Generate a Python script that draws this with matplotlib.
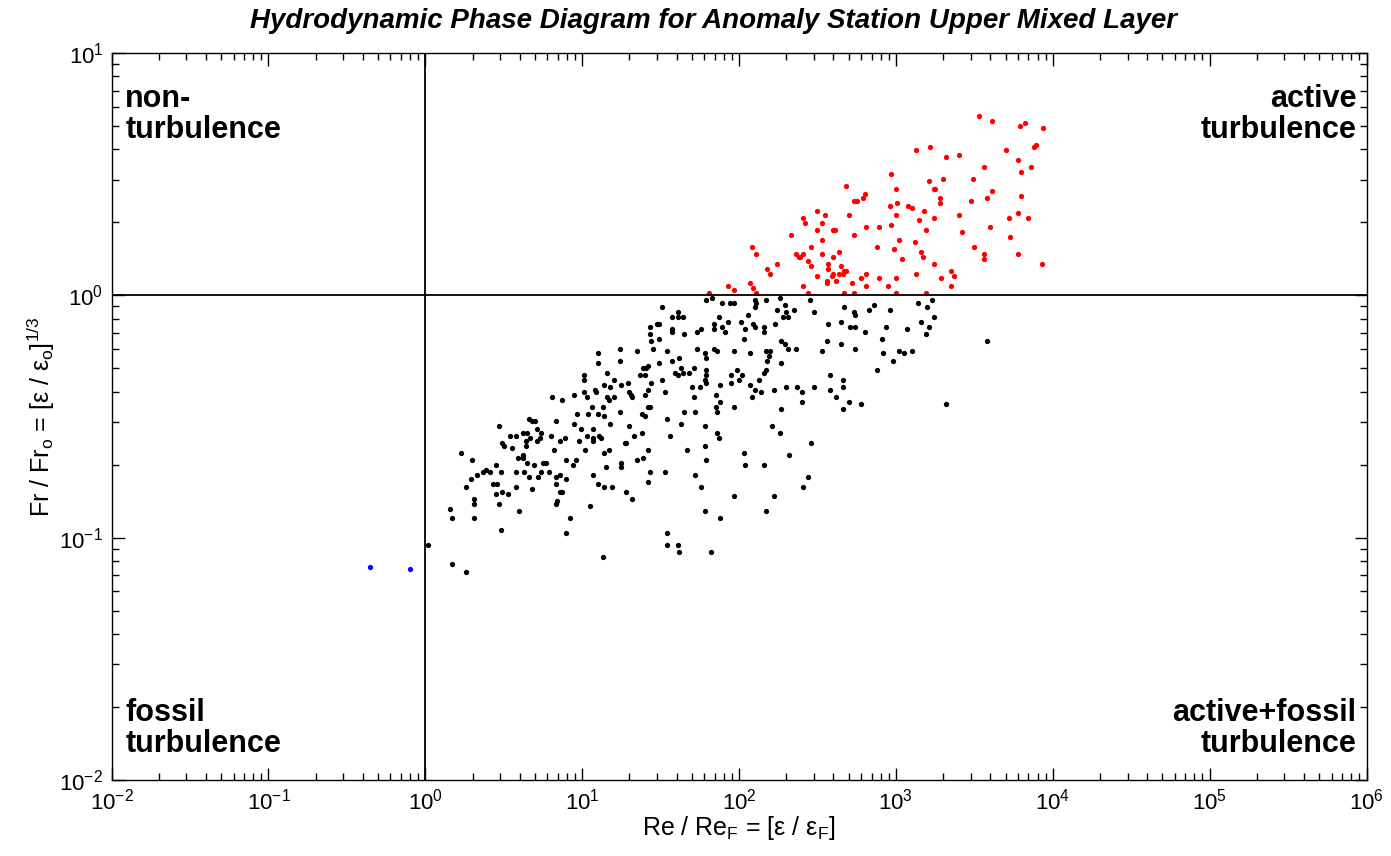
import numpy as np
import matplotlib
matplotlib.use('Agg')
import matplotlib.pyplot as plt
from matplotlib.ticker import LogLocator, NullFormatter

plt.rcParams['font.family'] = ['Liberation Sans', 'DejaVu Sans']
plt.rcParams['mathtext.fontset'] = 'custom'
plt.rcParams['mathtext.rm'] = 'Liberation Sans'
plt.rcParams['mathtext.it'] = 'Liberation Sans:italic'
plt.rcParams['mathtext.bf'] = 'Liberation Sans:bold'
plt.rcParams['mathtext.default'] = 'regular'

# values, as log10 of Re/Re_F and log10 of Fr/Fr_o
# red: active turbulence (Fr/Fr_o > 1)
red_log_re = [2.68, 2.80, 2.73, 2.75, 2.79, 2.50, 2.41, 2.42, 2.55, 2.53,
              2.70, 2.50, 2.60, 2.61, 2.81, 2.33, 2.53, 2.73, 2.08, 2.11,
              2.46, 2.36, 2.38, 2.39, 2.41, 2.53, 2.64, 2.60, 2.24, 2.44,
              2.57, 2.46, 2.57, 2.65, 2.18, 2.20, 2.50, 2.59, 2.60, 2.64,
              2.66, 2.67, 2.68, 2.78, 2.81, 2.56,
              1.81, 1.93, 1.97, 2.07, 2.09, 2.11,
              2.41, 2.44, 2.56, 2.62, 2.67, 2.72, 2.73, 2.81, 2.95, 3.00,
              3.19, 3.35,
              3.53, 3.61, 3.79, 3.82, 3.94, 3.89, 3.88, 3.13, 3.22, 3.70,
              3.32, 3.40, 3.78, 3.56, 3.86, 3.80, 2.97, 3.21, 3.30, 3.49,
              3.24, 3.25, 3.00, 3.61, 3.80, 3.58, 3.28, 3.28, 3.48, 3.01,
              2.96, 3.08, 3.10, 3.18, 3.00, 3.78, 3.40, 3.24, 3.15, 3.72,
              3.84, 2.89, 2.97, 3.19, 3.60, 3.42, 3.73, 3.02, 3.12, 2.88,
              2.99, 3.50, 3.16, 3.56, 3.17, 3.04, 3.78, 3.56, 3.24, 3.93,
              2.89, 3.00, 3.13, 3.35, 3.37, 3.29]
red_log_fr = [0.45, 0.42, 0.39, 0.39, 0.40, 0.35, 0.32, 0.30, 0.33, 0.30,
              0.33, 0.27, 0.27, 0.27, 0.28, 0.25, 0.23, 0.25, 0.20, 0.17,
              0.20, 0.17, 0.16, 0.16, 0.17, 0.17, 0.18, 0.16, 0.13, 0.14,
              0.13, 0.12, 0.11, 0.12, 0.11, 0.09, 0.08, 0.08, 0.09, 0.09,
              0.09, 0.10, 0.10, 0.07, 0.09, 0.06,
              0.01, 0.04, 0.02, 0.05, 0.03, 0.01,
              0.04, 0.01, 0.05, 0.06, 0.01, 0.05, 0.01, 0.04, 0.04, 0.01,
              0.01, 0.04,
              0.74, 0.72, 0.70, 0.71, 0.69, 0.62, 0.61, 0.60, 0.61, 0.60,
              0.57, 0.58, 0.56, 0.53, 0.53, 0.51, 0.50, 0.47, 0.48, 0.48,
              0.44, 0.44, 0.44, 0.43, 0.41, 0.40, 0.40, 0.38, 0.39, 0.38,
              0.37, 0.37, 0.36, 0.35, 0.33, 0.34, 0.33, 0.32, 0.31, 0.32,
              0.32, 0.28, 0.29, 0.27, 0.28, 0.26, 0.24, 0.23, 0.22, 0.20,
              0.19, 0.20, 0.18, 0.17, 0.16, 0.15, 0.17, 0.15, 0.13, 0.13,
              0.07, 0.07, 0.09, 0.10, 0.08, 0.07]

# black: active+fossil turbulence
black_log_re = [0.02,
                1.10, 1.10, 1.01, 1.01, 1.01, 1.08, 1.09, 0.81, 0.87, 0.95,
                1.03, 1.06, 0.97, 1.04, 1.10, 0.66, 0.68, 0.70, 0.71, 0.83,
                0.95, 0.99, 0.47, 1.07,
                0.54, 0.58, 0.62, 0.65, 0.67, 0.64, 0.71, 0.73, 0.74, 0.80,
                0.86, 0.89, 0.98, 1.03, 1.07, 1.07, 1.11, 0.49, 0.50, 0.55,
                0.64, 0.82, 1.02, 0.23, 0.30, 0.59, 0.62, 0.62, 0.65, 0.69,
                0.75, 0.77, 0.90, 0.94, 0.96, 0.45, 0.33, 0.37, 0.39, 0.41,
                0.48, 0.58, 0.63, 0.66, 0.72, 0.74, 0.79, 0.83, 0.86, 0.90,
                1.07, 0.29, 0.26, 0.43, 0.46, 0.45, 0.49, 0.53, 0.58, 0.68,
                0.83, 0.86, 0.87, 1.10, 0.31, 0.31, 0.47, 0.83, 0.84, 1.05,
                0.16, 0.17, 0.31, 0.60, 0.92, 0.48, 0.90, 0.17, 0.26,
                1.79, 1.83, 1.89, 1.94, 1.97, 2.10, 2.11, 2.10, 1.51, 1.57,
                1.61, 1.61, 1.64, 1.87, 2.06, 1.48, 1.49, 1.43, 1.57, 1.57,
                1.84, 1.84, 1.89, 1.91, 1.93, 2.01, 2.09, 2.10, 1.76, 1.73,
                2.04, 1.43, 1.65, 1.49, 1.44, 2.03, 1.45, 1.24, 1.35, 1.54,
                1.73, 1.84, 1.86, 1.97, 2.07, 1.78, 1.79, 1.62, 1.57, 1.24,
                1.49, 1.41, 1.42, 1.39, 1.71, 1.63, 1.59, 1.61, 1.64, 1.68,
                1.79, 1.79, 1.99, 1.95, 2.02, 2.00, 1.16, 1.37, 1.40, 1.78,
                1.20, 1.51, 1.79, 1.44, 1.29, 1.14, 1.25, 1.18, 2.07, 1.88,
                1.95, 1.70, 1.75, 2.10, 1.42, 1.30, 1.31, 1.32, 1.20, 1.16,
                1.17, 1.40, 1.53, 1.85, 1.71, 2.08, 1.88, 1.13, 1.42, 1.43,
                1.85, 1.97, 1.24, 1.38, 1.40, 1.14, 1.65, 1.72, 1.86, 1.54,
                1.18, 1.63, 1.30, 1.78,
                1.12, 1.33, 1.38, 1.56, 1.86, 1.87, 1.27, 1.28, 1.78, 1.14,
                1.17, 1.42, 1.67, 2.03, 1.39, 1.35, 1.79, 1.25, 1.15, 1.25,
                2.04, 1.43, 1.53, 1.72, 1.42, 1.14, 1.19, 1.76, 1.28, 1.32,
                1.97, 1.78, 1.88, 1.54, 1.54, 1.61, 1.62, 1.82, 1.13,
                2.26, 2.17, 2.45, 2.29, 2.24, 2.30, 2.35, 2.28, 2.31, 2.48,
                2.67, 2.73, 2.74, 2.83, 2.86, 2.96, 3.14, 2.23, 2.57, 2.65,
                2.71, 2.74, 2.94, 3.07, 2.16, 2.16, 2.80, 2.91, 2.27, 2.29,
                2.56, 2.65, 2.31, 2.36, 2.53, 2.74, 3.02, 3.05, 3.10, 2.92,
                2.17, 2.20, 2.19, 2.18, 2.27, 2.98, 2.17, 2.16, 2.88, 2.58,
                2.13, 2.66, 2.66, 2.30, 2.37, 2.48, 2.14, 2.22, 2.40, 2.58,
                2.62, 2.70, 2.40, 2.78, 2.27, 2.66, 2.21,
                3.23, 3.20, 3.24, 3.16, 3.21, 3.19, 3.58, 3.32,
                2.26, 2.46, 2.32, 2.16, 2.44, 2.41, 2.22, 2.17]
black_log_fr = [-1.03,
                -0.24, -0.28, -0.33, -0.35, -0.40, -0.39, -0.40, -0.42, -0.43, -0.41,
                -0.42, -0.46, -0.49, -0.49, -0.49, -0.51, -0.52, -0.52, -0.55, -0.52,
                -0.53, -0.55, -0.54, -0.55,
                -0.58, -0.58, -0.57, -0.57, -0.59, -0.60, -0.60, -0.59, -0.57, -0.58,
                -0.60, -0.59, -0.60, -0.58, -0.59, -0.60, -0.58, -0.61, -0.62, -0.63,
                -0.62, -0.64, -0.64, -0.65, -0.68, -0.67, -0.66, -0.67, -0.69, -0.70,
                -0.69, -0.69, -0.68, -0.70, -0.68, -0.70, -0.74, -0.73, -0.72, -0.73,
                -0.73, -0.73, -0.73, -0.75, -0.75, -0.73, -0.73, -0.75, -0.74, -0.76,
                -0.74, -0.76, -0.79, -0.78, -0.78, -0.82, -0.81, -0.82, -0.79, -0.80,
                -0.78, -0.81, -0.81, -0.78, -0.84, -0.86, -0.86, -0.86, -0.85, -0.87,
                -0.88, -0.92, -0.92, -0.89, -0.92, -0.97, -0.98, -1.11, -1.14,
                -0.02, -0.01, -0.03, -0.03, -0.03, -0.02, -0.03, -0.05, -0.05, -0.09,
                -0.07, -0.09, -0.09, -0.09, -0.08, -0.12, -0.12, -0.13, -0.14, -0.15,
                -0.12, -0.14, -0.13, -0.15, -0.11, -0.11, -0.12, -0.13, -0.14, -0.15,
                -0.14, -0.16, -0.16, -0.18, -0.19, -0.18, -0.22, -0.22, -0.23, -0.23,
                -0.22, -0.22, -0.23, -0.23, -0.24, -0.24, -0.26, -0.26, -0.27, -0.27,
                -0.28, -0.30, -0.29, -0.30, -0.30, -0.30, -0.32, -0.33, -0.32, -0.32,
                -0.31, -0.33, -0.31, -0.33, -0.33, -0.35, -0.32, -0.33, -0.33, -0.35,
                -0.35, -0.35, -0.36, -0.36, -0.36, -0.37, -0.37, -0.38, -0.37, -0.37,
                -0.36, -0.38, -0.38, -0.39, -0.39, -0.40, -0.41, -0.42, -0.42, -0.42,
                -0.43, -0.41, -0.40, -0.41, -0.42, -0.42, -0.44, -0.46, -0.46, -0.46,
                -0.46, -0.46, -0.48, -0.49, -0.50, -0.50, -0.48, -0.48, -0.48, -0.51,
                -0.53, -0.53, -0.54, -0.54,
                -0.59, -0.58, -0.57, -0.58, -0.57, -0.59, -0.61, -0.61, -0.62, -0.65,
                -0.64, -0.64, -0.64, -0.65, -0.67, -0.68, -0.68, -0.69, -0.71, -0.71,
                -0.70, -0.73, -0.73, -0.74, -0.77, -0.79, -0.79, -0.79, -0.81, -0.84,
                -0.83, -0.89, -0.92, -0.98, -1.03, -1.03, -1.06, -1.06, -1.08,
                -0.01, -0.02, -0.02, -0.04, -0.06, -0.07, -0.06, -0.09, -0.09, -0.07,
                -0.05, -0.07, -0.08, -0.06, -0.04, -0.06, -0.03, -0.12, -0.12, -0.11,
                -0.13, -0.13, -0.13, -0.14, -0.13, -0.15, -0.15, -0.18, -0.19, -0.20,
                -0.19, -0.20, -0.22, -0.22, -0.23, -0.22, -0.23, -0.24, -0.23, -0.24,
                -0.23, -0.23, -0.25, -0.27, -0.28, -0.27, -0.31, -0.32, -0.31, -0.33,
                -0.35, -0.35, -0.38, -0.38, -0.38, -0.38, -0.40, -0.39, -0.40, -0.39,
                -0.42, -0.44, -0.44, -0.45, -0.47, -0.47, -0.54,
                -0.02, -0.05, -0.09, -0.11, -0.13, -0.16, -0.19, -0.45,
                -0.57, -0.61, -0.66, -0.70, -0.75, -0.79, -0.83, -0.89]

# blue: fossil turbulence
blue_log_re = [-0.35, -0.10]
blue_log_fr = [-1.12, -1.13]

quadrant_labels = ['non-\nturbulence', 'active\nturbulence',
                   'fossil\nturbulence', 'active+fossil\nturbulence']

fig = plt.figure(figsize=(13.91, 8.56), dpi=100)
ax = fig.add_axes([0.0802, 0.0888, 0.9022, 0.8493])

for lx, ly, col in [(black_log_re, black_log_fr, 'k'),
                    (red_log_re, red_log_fr, 'r'),
                    (blue_log_re, blue_log_fr, 'b')]:
    ax.plot(10 ** np.array(lx), 10 ** np.array(ly), linestyle='none',
            marker='o', markersize=3.8, markeredgewidth=0, color=col)

ax.axvline(1, color='k', linewidth=1.3)
ax.axhline(1, color='k', linewidth=1.3)

ax.set_xscale('log')
ax.set_yscale('log')
ax.set_xlim(1e-2, 1e6)
ax.set_ylim(1e-2, 1e1)
ax.xaxis.set_major_locator(LogLocator(base=10, numticks=20))
ax.xaxis.set_minor_locator(LogLocator(base=10, subs=np.arange(2, 10), numticks=100))
ax.yaxis.set_minor_locator(LogLocator(base=10, subs=np.arange(2, 10), numticks=100))
ax.xaxis.set_minor_formatter(NullFormatter())
ax.yaxis.set_minor_formatter(NullFormatter())
ax.tick_params(which='both', direction='in', top=True, right=True, labelsize=16, width=1)
ax.tick_params(which='major', length=9, pad=6)
ax.tick_params(which='minor', length=5)
for sp in ax.spines.values():
    sp.set_linewidth(1)

ax.set_xlabel(r'Re / Re$_F$ = [ε / ε$_F$]', fontsize=18, labelpad=0)
ax.set_ylabel(r'Fr / Fr$_o$ = [ε / ε$_o$]$^{1/3}$', fontsize=18, labelpad=2)

fig.text(0.5126, 0.976, 'Hydrodynamic Phase Diagram for Anomaly Station Upper Mixed Layer',
         ha='center', va='center', fontsize=20, fontweight='bold', fontstyle='italic')

kw = dict(transform=ax.transAxes, fontsize=22, fontweight='bold', linespacing=1.05)
ax.text(0.011, 0.957, quadrant_labels[0], ha='left', va='top', **kw)
ax.text(0.992, 0.957, quadrant_labels[1], ha='right', va='top', multialignment='right', **kw)
ax.text(0.011, 0.113, quadrant_labels[2], ha='left', va='top', **kw)
ax.text(0.992, 0.113, quadrant_labels[3], ha='right', va='top', multialignment='right', **kw)

fig.savefig('out.png', dpi=100)
